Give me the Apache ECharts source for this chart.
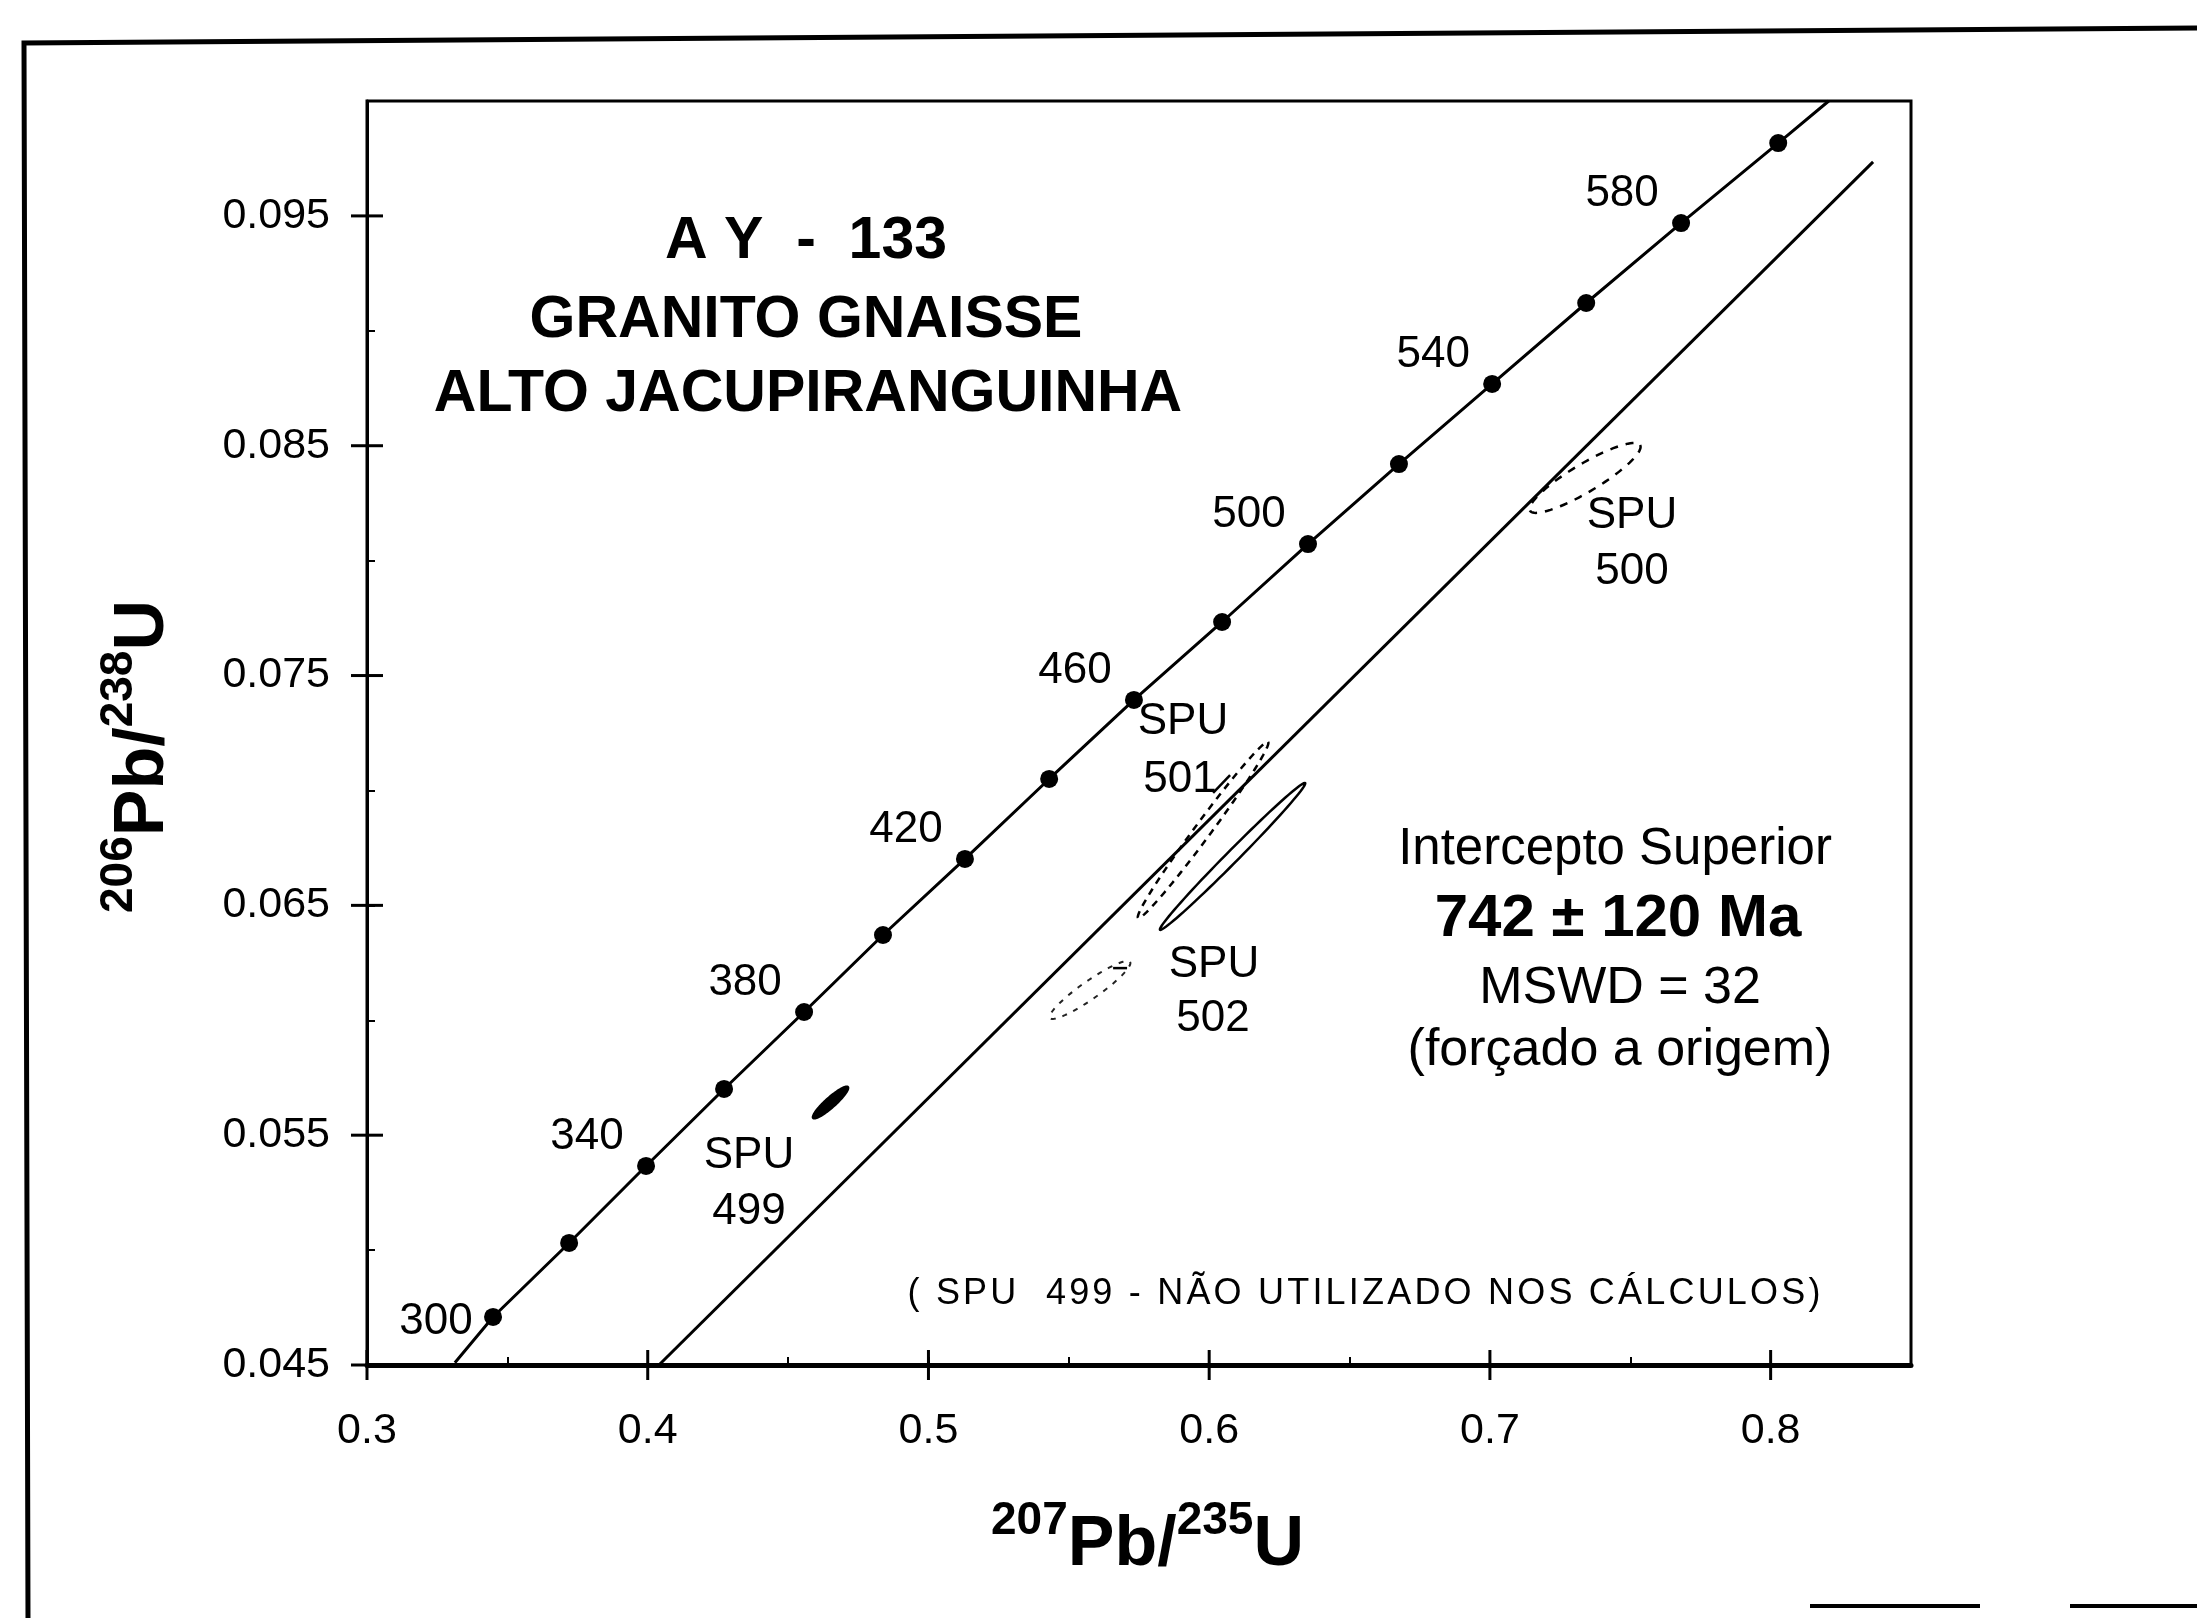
<!DOCTYPE html>
<html>
<head>
<meta charset="utf-8">
<script src="https://cdn.jsdelivr.net/npm/echarts@6/dist/echarts.min.js"></script>
<style>
html,body{margin:0;padding:0;background:#fff;}
#c{width:2197px;height:1618px;}
</style>
</head>
<body>
<div id="c"></div>
<script>
// ---------- data ----------
const xTickValues = [0.3, 0.4, 0.5, 0.6, 0.7, 0.8];
const xTickLabels = ['0.3', '0.4', '0.5', '0.6', '0.7', '0.8'];
const yTickValues = [0.045, 0.055, 0.065, 0.075, 0.085, 0.095];
const yTickLabels = ['0.045', '0.055', '0.065', '0.075', '0.085', '0.095'];

// concordia age marks (Ma) and their positions
const concordiaAges = [300, 320, 340, 360, 380, 400, 420, 440, 460, 480, 500, 520, 540, 560, 580, 600];
const concordiaX = [0.3449, 0.3720, 0.3994, 0.4272, 0.4557, 0.4838, 0.5130, 0.5430, 0.5732, 0.6046, 0.6352, 0.6676, 0.7008, 0.7343, 0.7681, 0.8027];
const concordiaY = [0.04709, 0.05031, 0.05366, 0.05701, 0.06036, 0.06371, 0.06702, 0.07050, 0.07394, 0.07733, 0.08072, 0.08420, 0.08769, 0.09121, 0.09469, 0.09817];
const concordiaStart = [0.3313, 0.0451];
const concordiaEnd = [0.8207, 0.1000];
const labeledAges = [300, 340, 380, 420, 460, 500, 540, 580];

// discordia line (forced through the origin)
const discordiaX = [0.4040, 0.8365];
const discordiaY = [0.0450, 0.09735];

// error ellipses: centre, end of long axis, minor half-axis (in 206Pb/238U units)
const ellipseNames = ['SPU 499', 'SPU 501', 'SPU 502', 'SPU 502', 'SPU 500'];
const ellipseCX = [0.46512, 0.59783, 0.60833, 0.55757, 0.73391];
const ellipseCY = [0.05642, 0.06828, 0.06713, 0.06132, 0.08360];
const ellipseEX = [0.47136, 0.62098, 0.63417, 0.57182, 0.75351];
const ellipseEY = [0.05710, 0.07211, 0.07032, 0.06254, 0.08503];
const ellipseMinor = [0.00022, 0.00035, 0.00026, 0.00039, 0.00061];

// short leader strokes from labels to ellipses
const leaderX1 = [0.60139, 0.56577];
const leaderY1 = [0.06989, 0.06227];
const leaderX2 = [0.60744, 0.57075];
const leaderY2 = [0.07067, 0.06227];

// ---------- chart ----------
const X_MIN = 0.3, X_MAX = 0.85, Y_MIN = 0.045, Y_MAX = 0.1;
const SANS = '"Liberation Sans", Arial, sans-serif';
const NUM_FONT = '"Liberation Sans", Arial, sans-serif';

function fmtFrom(values, labels) {
  return function (v) {
    const i = values.findIndex(t => Math.abs(t - v) < 1e-9);
    return i >= 0 ? labels[i] : '';
  };
}

const chart = echarts.init(document.getElementById('c'), null, { renderer: 'canvas', width: 2197, height: 1618 });

const concordiaLine = [concordiaStart].concat(concordiaX.map((x, i) => [x, concordiaY[i]])).concat([concordiaEnd]);
const concordiaDots = concordiaX.map((x, i) => {
  const age = concordiaAges[i];
  const shown = labeledAges.indexOf(age) >= 0;
  return {
    value: [x, concordiaY[i], age],
    label: {
      show: shown,
      position: 'inside',
      offset: age === 300 ? [-57, 5] : [-59, -29],
      formatter: String(age),
      fontFamily: NUM_FONT, fontSize: 44, color: '#000', opacity: 1, textBorderWidth: 0
    }
  };
});

const ellipseData = ellipseCX.map((cx, i) => [cx, ellipseCY[i], ellipseEX[i], ellipseEY[i], ellipseMinor[i], i]);
const ellipseStyles = [
  { fill: '#000', stroke: '#000', lineWidth: 2 },
  { fill: 'none', stroke: '#000', lineWidth: 2.5, lineDash: [7, 6] },
  { fill: 'none', stroke: '#000', lineWidth: 2.5 },
  { fill: 'none', stroke: '#222', lineWidth: 2, lineDash: [5, 7] },
  { fill: 'none', stroke: '#000', lineWidth: 2.5, lineDash: [8, 8] }
];

function renderEllipse(params, api) {
  const c = api.coord([api.value(0), api.value(1)]);
  const e = api.coord([api.value(2), api.value(3)]);
  const b = Math.abs(api.size([0, api.value(4)])[1]);
  const ux = e[0] - c[0], uy = e[1] - c[1];
  const len = Math.hypot(ux, uy) || 1;
  const px = -uy / len * b, py = ux / len * b;
  const pts = [];
  for (let k = 0; k < 90; k++) {
    const t = k / 90 * Math.PI * 2;
    pts.push([c[0] + Math.cos(t) * ux + Math.sin(t) * px, c[1] + Math.cos(t) * uy + Math.sin(t) * py]);
  }
  const st = ellipseStyles[api.value(5)];
  return { type: 'polygon', shape: { points: pts }, style: Object.assign({}, st) };
}

function renderLeader(params, api) {
  const a = api.coord([api.value(0), api.value(1)]);
  const b = api.coord([api.value(2), api.value(3)]);
  return { type: 'line', shape: { x1: a[0], y1: a[1], x2: b[0], y2: b[1] }, style: { stroke: '#000', lineWidth: 2.5 } };
}

function renderXTick(params, api) {
  const p = api.coord([api.value(0), Y_MIN]);
  return { type: 'line', shape: { x1: p[0], y1: p[1] - 15, x2: p[0], y2: p[1] + 15 }, style: { stroke: '#000', lineWidth: 3 } };
}
function renderYTick(params, api) {
  const p = api.coord([X_MIN, api.value(1)]);
  return { type: 'line', shape: { x1: p[0] - 16, y1: p[1], x2: p[0] + 16, y2: p[1] }, style: { stroke: '#000', lineWidth: 3 } };
}

// ---------- free text helpers ----------
const measureCtx = document.createElement('canvas').getContext('2d');
function txt(text, x, y, font, align) {
  return {
    type: 'text', x: x, y: y, silent: true,
    style: { text: text, font: font, fill: '#000', textAlign: align || 'center', textVerticalAlign: 'middle', align: align || 'center', verticalAlign: 'middle' }
  };
}
// letter-spaced text fitted to a given total width, centred on (cx, cy)
function spacedText(text, cx, cy, font, totalWidth) {
  measureCtx.font = font;
  const chars = Array.from(text);
  const widths = chars.map(ch => measureCtx.measureText(ch).width);
  const natural = widths.reduce((a, b) => a + b, 0);
  const sp = (totalWidth - natural) / (chars.length - 1);
  let x = cx - totalWidth / 2;
  const children = [];
  chars.forEach((ch, i) => {
    if (ch !== ' ') {
      children.push({
        type: 'text', x: x, y: 0, silent: true,
        style: { text: ch, font: font, fill: '#000', textAlign: 'left', textVerticalAlign: 'middle', align: 'left', verticalAlign: 'middle' }
      });
    }
    x += widths[i] + sp;
  });
  return { type: 'group', x: 0, y: cy, children: children };
}
function supLabel(parts, x, y, rotation) {
  let cx = 0;
  const children = [];
  parts.forEach(p => {
    const fs = p.sup ? 46 : 70;
    const font = 'bold ' + fs + 'px ' + SANS;
    measureCtx.font = font;
    const w = measureCtx.measureText(p.t).width;
    children.push({
      type: 'text', x: cx, y: p.sup ? -49 : -24.3, silent: true,
      style: { text: p.t, font: font, fill: '#000', textAlign: 'left', textVerticalAlign: 'middle', align: 'left', verticalAlign: 'middle' }
    });
    cx += w;
  });
  return { type: 'group', x: x, y: y, rotation: rotation, children: children };
}

const titleFont = 'bold 59px ' + SANS;
const spuFont = '44px ' + SANS;
const graphics = [
  // outer figure frame
  { type: 'polyline', silent: true, shape: { points: [[28, 1618], [24, 43], [2197, 28]] }, style: { stroke: '#000', lineWidth: 5, fill: 'none' } },
  { type: 'line', silent: true, shape: { x1: 1810, y1: 1606, x2: 1980, y2: 1606 }, style: { stroke: '#000', lineWidth: 4 } },
  { type: 'line', silent: true, shape: { x1: 2070, y1: 1606, x2: 2197, y2: 1606 }, style: { stroke: '#000', lineWidth: 4 } },
  // titles
  txt('A Y  -  133', 806, 242, titleFont),
  txt('GRANITO GNAISSE', 806, 321, titleFont),
  txt('ALTO JACUPIRANGUINHA', 808, 395, titleFont),
  // intercept box
  txt('Intercepto Superior', 1615, 850, '51px ' + SANS),
  txt('742 ± 120 Ma', 1618, 919, 'bold 60px ' + SANS),
  txt('MSWD = 32', 1620, 989, '52px ' + SANS),
  txt('(forçado a origem)', 1620, 1051, '52px ' + SANS),
  spacedText('( SPU  499 - NÃO UTILIZADO NOS CÁLCULOS)', 1364, 1294, '36px ' + SANS, 913),
  // spot labels
  txt('SPU', 749, 1156, spuFont), txt('499', 749, 1212, spuFont),
  txt('SPU', 1183, 722, spuFont), txt('501', 1180, 780, spuFont),
  txt('SPU', 1214, 965, spuFont), txt('502', 1213, 1019, spuFont),
  txt('SPU', 1632, 516, spuFont), txt('500', 1632, 572, spuFont),
  // axis names with superscripts
  supLabel([{ t: '207', sup: true }, { t: 'Pb/', sup: false }, { t: '235', sup: true }, { t: 'U', sup: false }], 991, 1570, 0),
  supLabel([{ t: '206', sup: true }, { t: 'Pb/', sup: false }, { t: '238', sup: true }, { t: 'U', sup: false }], 168, 913, Math.PI / 2)
];

const option = {
  animation: false,
  backgroundColor: '#fff',
  grid: { left: 367, top: 101, width: 1544, height: 1264, show: true, borderColor: '#000', borderWidth: 3, backgroundColor: 'transparent' },
  xAxis: {
    type: 'value', min: X_MIN, max: X_MAX, interval: 0.05,
    axisLine: { onZero: false, lineStyle: { color: '#000', width: 5 } },
    axisTick: { show: true, inside: true, length: 8, lineStyle: { color: '#000', width: 2 } },
    splitLine: { show: false },
    axisLabel: { margin: 45, fontFamily: NUM_FONT, fontSize: 43, color: '#000', formatter: fmtFrom(xTickValues, xTickLabels), hideOverlap: false }
  },
  yAxis: {
    type: 'value', min: Y_MIN, max: Y_MAX, interval: 0.005,
    axisLine: { onZero: false, lineStyle: { color: '#000', width: 3 } },
    axisTick: { show: true, inside: true, length: 8, lineStyle: { color: '#000', width: 2 } },
    splitLine: { show: false },
    axisLabel: { margin: 37, fontFamily: NUM_FONT, fontSize: 43, color: '#000', formatter: fmtFrom(yTickValues, yTickLabels), hideOverlap: false }
  },
  series: [
    { name: 'Concordia', type: 'line', data: concordiaLine, showSymbol: false, symbol: 'none', lineStyle: { color: '#000', width: 3 }, z: 2, silent: true },
    { name: 'Discordia', type: 'line', data: discordiaX.map((x, i) => [x, discordiaY[i]]), showSymbol: false, symbol: 'none', lineStyle: { color: '#000', width: 3 }, z: 2, silent: true },
    { name: 'Idades', type: 'scatter', data: concordiaDots, symbol: 'circle', symbolSize: 18, itemStyle: { color: '#000', opacity: 1 }, z: 4, silent: true },
    { name: 'Elipses', type: 'custom', renderItem: renderEllipse, data: ellipseData, clip: false, z: 3, silent: true },
    { name: 'Guias', type: 'custom', renderItem: renderLeader, data: leaderX1.map((x, i) => [x, leaderY1[i], leaderX2[i], leaderY2[i]]), clip: false, z: 3, silent: true },
    { name: 'xTicks', type: 'custom', renderItem: renderXTick, data: xTickValues.map(v => [v, Y_MIN]), clip: false, z: 5, silent: true },
    { name: 'yTicks', type: 'custom', renderItem: renderYTick, data: yTickValues.map(v => [X_MIN, v]), clip: false, z: 5, silent: true }
  ],
  graphic: graphics
};
chart.setOption(option);
</script>
</body>
</html>
